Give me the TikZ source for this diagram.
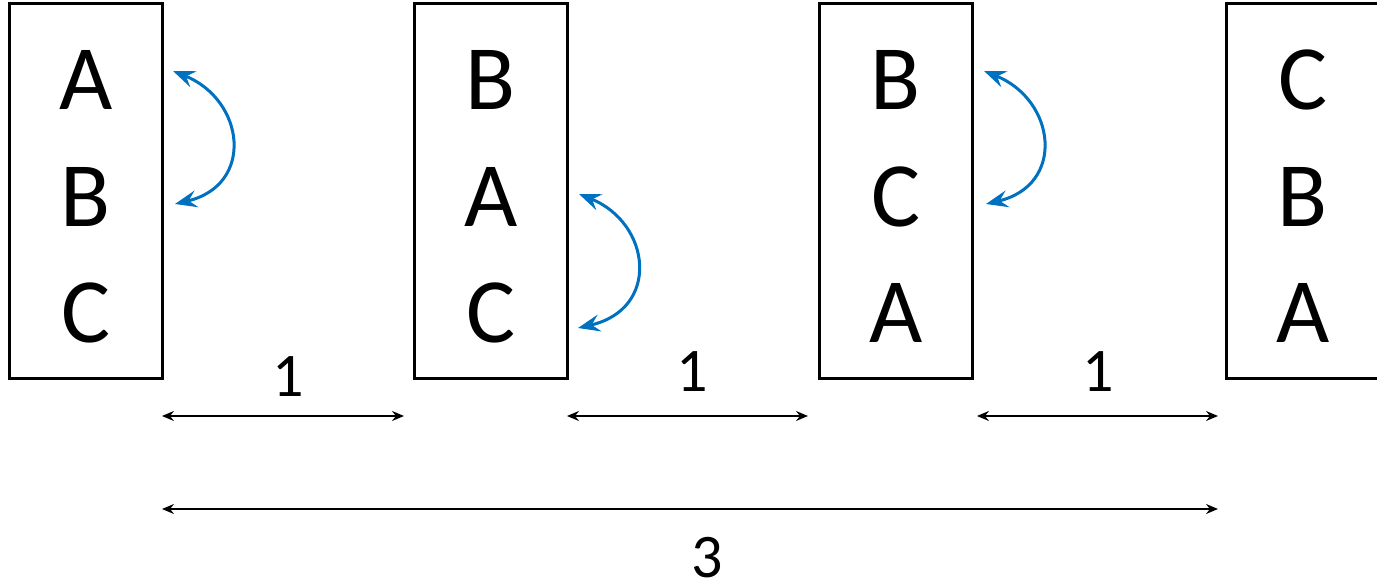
\documentclass[tikz,border=0pt]{standalone}
\usepackage{fontspec}
\setmainfont{Carlito}
\usetikzlibrary{arrows.meta}
\definecolor{swapblue}{RGB}{0,112,192}
\begin{document}
\begin{tikzpicture}[x=0.5pt,y=-0.5pt,
  box/.style={draw=black,line width=1.5pt,minimum width=76.5pt,minimum height=187.5pt,inner sep=0pt},
  letter/.style={font=\fontsize{46}{50}\selectfont,anchor=base,inner sep=0pt},
  num/.style={font=\fontsize{31}{34}\selectfont,anchor=base,inner sep=0pt},
  swap/.style={draw=swapblue,line width=1.5pt,{Stealth[length=11pt,width=8.5pt,inset=4pt]}-{Stealth[length=11pt,width=8.5pt,inset=4pt]}},
  dim/.style={draw=black,line width=0.8pt,{Stealth[length=6pt,width=5pt,inset=2pt]}-{Stealth[length=6pt,width=5pt,inset=2pt]}}
]
\useasboundingbox (0,0) rectangle (1377,588);
\node[box] (b1) at (85.5,191.5) {};
\node[box] (b2) at (490.5,191.5) {};
\node[box] (b3) at (895.5,191.5) {};
\node[box] (b4) at (1302.5,191.5) {};
% letters
\node[letter] (a1) at (86,110) {A};
\node[letter] (a2) at (86,227) {B};
\node[letter] (a3) at (86,343) {C};
\node[letter] (c1) at (491,110) {B};
\node[letter] (c2) at (491,227) {A};
\node[letter] (c3) at (491,343) {C};
\node[letter] (d1) at (896,110) {B};
\node[letter] (d2) at (896,227) {C};
\node[letter] (d3) at (896,343) {A};
\node[letter] (e1) at (1303,110) {C};
\node[letter] (e2) at (1303,227) {B};
\node[letter] (e3) at (1303,343) {A};
% swap arrows
\coordinate (s1a) at (173,71);
\coordinate (s1b) at (175,204);
\coordinate (s2a) at (579,194);
\coordinate (s2b) at (578,328);
\coordinate (s3a) at (984,71);
\coordinate (s3b) at (986,204);
\draw[swap] (s1a) .. controls (245,100) and (255,185) .. (s1b);
\draw[swap] (s2a) .. controls (651,223) and (661,309) .. (s2b);
\draw[swap] (s3a) .. controls (1056,100) and (1066,185) .. (s3b);
% dimension arrows
\coordinate (p1) at (162,416);
\coordinate (p2) at (404,416);
\coordinate (p3) at (567,416);
\coordinate (p4) at (808,416);
\coordinate (p5) at (977,416);
\coordinate (p6) at (1218,416);
\coordinate (q1) at (162,509);
\coordinate (q2) at (1218,509);
\draw[dim] (p1) -- (p2);
\draw[dim] (p3) -- (p4);
\draw[dim] (p5) -- (p6);
\draw[dim] (q1) -- (q2);
\node[num] (n1) at (288,396) {1};
\node[num] (n2) at (692,392) {1};
\node[num] (n3) at (1098,392) {1};
\node[num] (n4) at (707,577) {3};
\end{tikzpicture}
\end{document}
